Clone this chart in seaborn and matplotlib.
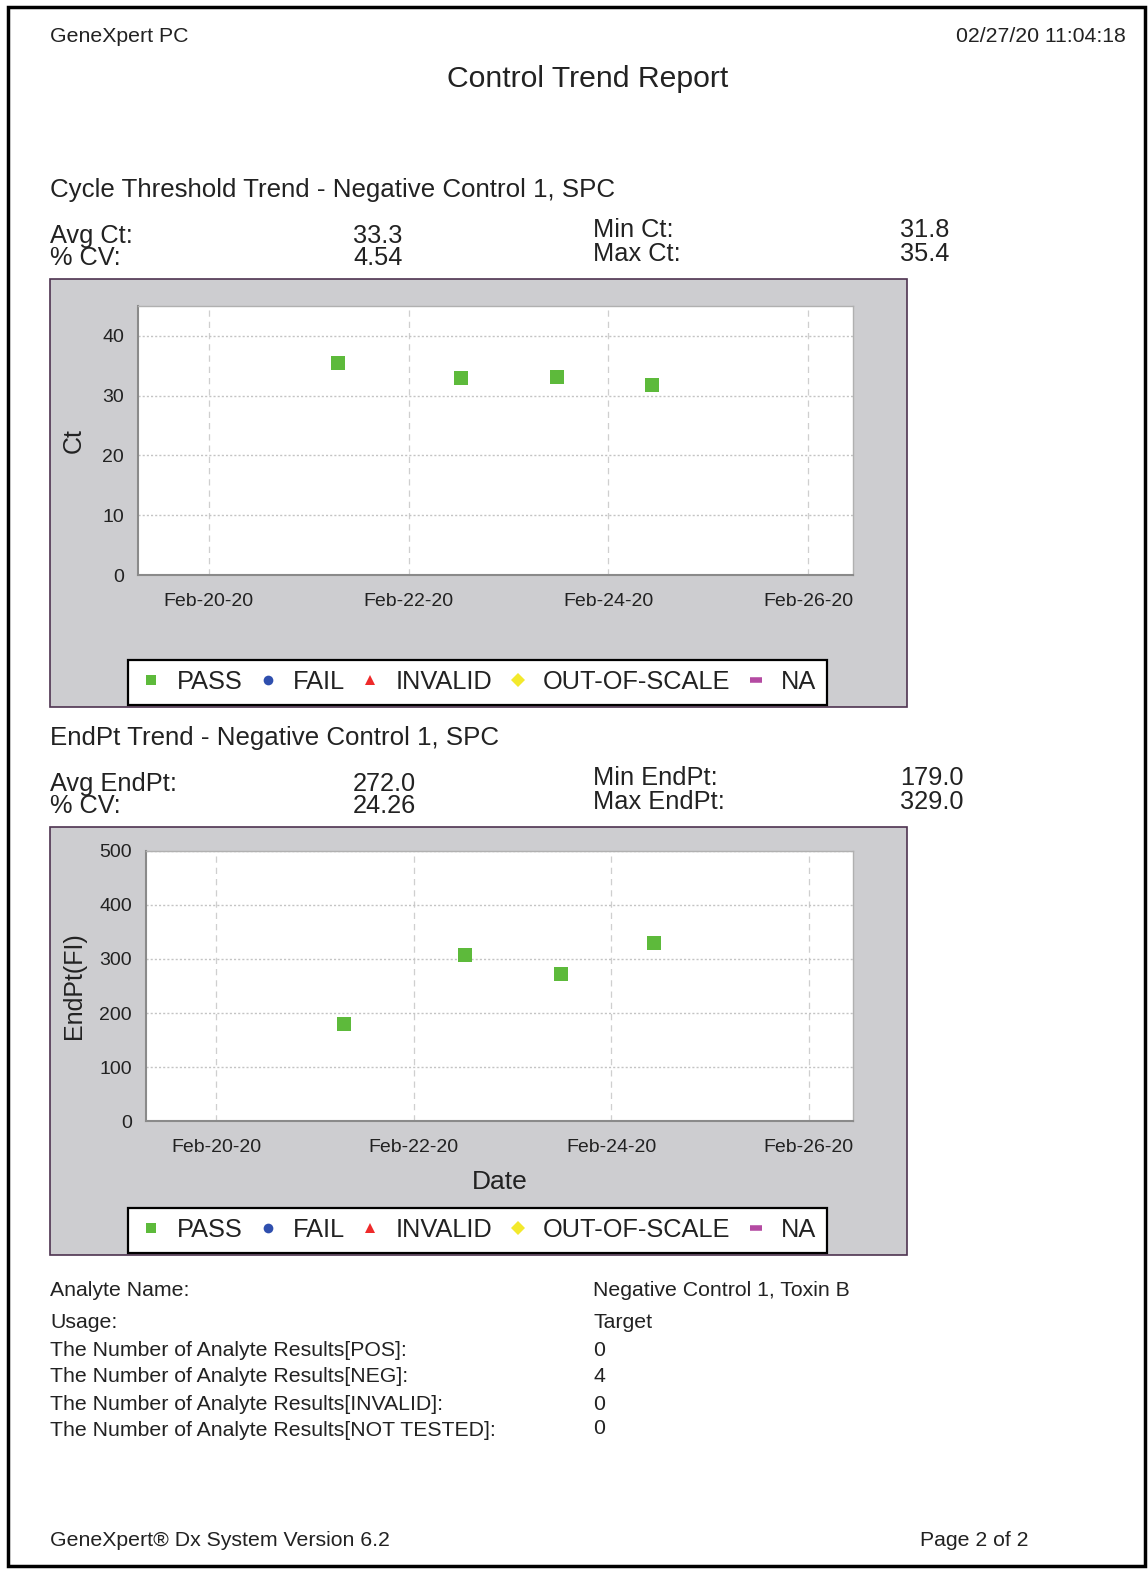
import matplotlib
matplotlib.use('Agg')
import matplotlib.pyplot as plt
import matplotlib.patches as patches
from matplotlib.lines import Line2D
import pandas as pd
import seaborn as sns

# run dates and results
run_dates = pd.to_datetime(["2020-02-21 07:00", "2020-02-22 12:30",
                            "2020-02-23 11:45", "2020-02-24 10:30"])
ct_values = [35.4, 33.0, 33.1, 31.8]
endpt_values = [179.0, 307.0, 273.0, 329.0]

tick_dates = pd.to_datetime(["2020-02-20", "2020-02-22", "2020-02-24", "2020-02-26"])
tick_labels = ["Feb-20-20", "Feb-22-20", "Feb-24-20", "Feb-26-20"]
ct_ticks = [0, 10, 20, 30, 40]
endpt_ticks = [0, 100, 200, 300, 400, 500]

ct_stats = [("Avg Ct:", "33.3"), ("% CV:", "4.54")]
ct_minmax = [("Min Ct:", "31.8"), ("Max Ct:", "35.4")]
endpt_stats = [("Avg EndPt:", "272.0"), ("% CV:", "24.26")]
endpt_minmax = [("Min EndPt:", "179.0"), ("Max EndPt:", "329.0")]

legend_labels = ["PASS", "FAIL", "INVALID", "OUT-OF-SCALE", "NA"]
legend_markers = ["s", "o", "^", "D", "_"]
legend_colors = ["#5dba3b", "#2f4fae", "#ee2a2a", "#f3e92c", "#b44aa2"]

analyte_rows = [
    ("Analyte Name:", "Negative Control 1, Toxin B"),
    ("Usage:", "Target"),
    ("The Number of Analyte Results[POS]:", "0"),
    ("The Number of Analyte Results[NEG]:", "4"),
    ("The Number of Analyte Results[INVALID]:", "0"),
    ("The Number of Analyte Results[NOT TESTED]:", "0"),
]

W, H = 1148, 1569
sns.set_style("white")
plt.rcParams['font.family'] = ['Liberation Sans', 'DejaVu Sans']
TXT = "#222222"
BODY = 15.3
STAT = 18.3


def fx(x):
    return x / W


def fy(y):
    return 1 - y / H


fig = plt.figure(figsize=(W / 100, H / 100), dpi=100)
fig.patch.set_facecolor("white")

# page border
fig.add_artist(patches.Rectangle((fx(8), fy(1566)), fx(1145) - fx(8), fy(7) - fy(1566),
                                 transform=fig.transFigure, fill=False, lw=2.5, ec="black"))

fig.text(fx(50), fy(37), "GeneXpert PC", fontsize=BODY, color=TXT, va="center")
fig.text(fx(1126), fy(37), "02/27/20 11:04:18", fontsize=BODY, color=TXT, va="center", ha="right")
fig.text(fx(588), fy(79), "Control Trend Report", fontsize=21.7, color=TXT, va="center", ha="center")


def trend_block(top, heading, stats, minmax, values, yticks, ylim, ylabel, ax_box, xlabel=None):
    fig.text(fx(50), fy(top), heading, fontsize=18.6, color=TXT, va="center")
    for i, (lab, val) in enumerate(stats):
        yy = top + 46 + 22 * i
        fig.text(fx(50), fy(yy), lab, fontsize=STAT, color=TXT, va="center")
        fig.text(fx(353), fy(yy), val, fontsize=STAT, color=TXT, va="center")
    for i, (lab, val) in enumerate(minmax):
        yy = top + 40 + 24 * i
        fig.text(fx(593), fy(yy), lab, fontsize=STAT, color=TXT, va="center")
        fig.text(fx(900), fy(yy), val, fontsize=STAT, color=TXT, va="center")

    # grey chart panel
    p_top = top + 89
    fig.add_artist(patches.Rectangle((fx(50), fy(p_top + 428)), fx(907) - fx(50), fy(p_top) - fy(p_top + 428),
                                     transform=fig.transFigure, fc="#cdcdd0", ec="#4e3350", lw=1.2, zorder=0))

    l, t, r, b = ax_box
    ax = fig.add_axes([fx(l), fy(b), fx(r) - fx(l), fy(t) - fy(b)])
    ax.set_facecolor("white")
    sns.scatterplot(x=run_dates, y=values, ax=ax, marker="s", s=95, color=legend_colors[0],
                    linewidth=0, legend=False, zorder=3)
    ax.set_xlim(pd.Timestamp("2020-02-19 07:00"), pd.Timestamp("2020-02-26 10:45"))
    ax.set_ylim(*ylim)
    ax.set_xticks(tick_dates)
    ax.set_xticklabels(tick_labels)
    ax.set_yticks(yticks)
    ax.tick_params(axis="both", labelsize=14, colors="#888888", labelcolor=TXT, length=5, width=1,
                   direction="out")
    ax.tick_params(axis="x", pad=8)
    ax.tick_params(axis="y", pad=5)
    ax.xaxis.grid(True, ls=(0, (5, 4)), color="#cfcfcf", lw=0.9)
    ax.yaxis.grid(True, ls=(0, (1.5, 1.5)), color="#c4c4c4", lw=1)
    for side in ["left", "bottom"]:
        ax.spines[side].set_color("#8a8a8a")
        ax.spines[side].set_linewidth(1.5)
    for side in ["right", "top"]:
        ax.spines[side].set_color("#b0b0b0")
        ax.spines[side].set_linewidth(1)
    ax.set_ylabel(ylabel, fontsize=18, color=TXT)
    ax.yaxis.set_label_coords((86 - l) / (r - l), 0.5)
    if xlabel:
        ax.set_xlabel(xlabel, fontsize=19, color=TXT, labelpad=10)
    else:
        ax.set_xlabel("")

    handles = [Line2D([], [], ls="none", marker=m, color=c, markersize=(9 if m == "_" else 7),
                      markeredgewidth=(4 if m == "_" else 0))
               for m, c in zip(legend_markers, legend_colors)]
    leg = fig.legend(handles, legend_labels, loc="lower left", ncol=5, mode="expand",
                     bbox_to_anchor=(fx(128), fy(p_top + 426), fx(827) - fx(128), fy(p_top + 378) - fy(p_top + 426)),
                     frameon=True, fancybox=False, fontsize=18.3, borderaxespad=0, handletextpad=0.5,
                     handlelength=1.0, borderpad=0.42, labelcolor=TXT, framealpha=1, facecolor="white")
    leg.get_frame().set_edgecolor("black")
    leg.get_frame().set_linewidth(1.6)
    return ax


trend_block(190, "Cycle Threshold Trend - Negative Control 1, SPC", ct_stats, ct_minmax,
            ct_values, ct_ticks, (0, 45), "Ct", (138, 306, 853, 575))
trend_block(738, "EndPt Trend - Negative Control 1, SPC", endpt_stats, endpt_minmax,
            endpt_values, endpt_ticks, (0, 500), "EndPt(FI)", (146, 851, 853, 1121), xlabel="Date")

ys = [1291, 1322, 1350, 1377, 1405, 1431]
for (lab, val), yy in zip(analyte_rows, ys):
    fig.text(fx(50), fy(yy), lab, fontsize=BODY, color=TXT, va="center")
    fig.text(fx(593), fy(yy - (3 if yy == 1431 else 0)), val, fontsize=BODY, color=TXT, va="center")

fig.text(fx(50), fy(1541), "GeneXpert\u00ae Dx System Version 6.2", fontsize=BODY, color=TXT, va="center")
fig.text(fx(1028), fy(1541), "Page 2 of 2", fontsize=BODY, color=TXT, va="center", ha="right")

fig.savefig("out.png", dpi=100)
